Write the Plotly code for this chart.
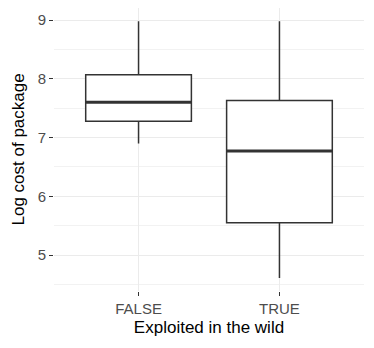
import plotly.graph_objects as go

categories = ["FALSE", "TRUE"]
lower_whisker = [6.90, 4.61]
q1 = [7.28, 5.55]
median = [7.60, 6.77]
q3 = [8.07, 7.63]
upper_whisker = [8.98, 8.98]

fig = go.Figure()
fig.add_trace(go.Box(
    x=categories, q1=q1, median=median, q3=q3,
    lowerfence=lower_whisker, upperfence=upper_whisker,
    fillcolor="white", line=dict(color="#333333", width=1.5),
    width=0.75, whiskerwidth=0, boxpoints=False, showlegend=False,
    hoverinfo="skip",
))
# thick median lines like ggplot
for i, m in enumerate(median):
    fig.add_shape(type="line", xref="x", yref="y", x0=i - 0.375, x1=i + 0.375,
                  y0=m, y1=m, line=dict(color="#333333", width=3))

# y axis title as annotation for exact placement
fig.add_annotation(text="Log cost of package", xref="paper", yref="paper",
                   x=-(54 - 18) / 310, y=0.5, xanchor="center", yanchor="middle",
                   textangle=-90, showarrow=False,
                   font=dict(size=17, color="black"))

fig.update_layout(
    width=374, height=348,
    margin=dict(l=54, r=10, t=8, b=57),
    plot_bgcolor="white", paper_bgcolor="white",
    font=dict(family="Liberation Sans, Arial, sans-serif", color="black"),
    xaxis=dict(
        type="category", range=[-0.6, 1.6], automargin=False,
        showgrid=True, gridcolor="#EBEBEB", gridwidth=1.1,
        ticks="outside", ticklen=4, tickcolor="#333333", tickwidth=1.1,
        tickfont=dict(size=15, color="#4D4D4D"),
        title=dict(text="Exploited in the wild", font=dict(size=17, color="black"), standoff=5),
        zeroline=False, showline=False,
    ),
    yaxis=dict(
        range=[4.39, 9.205], tickvals=[5, 6, 7, 8, 9], automargin=False,
        showgrid=True, gridcolor="#EBEBEB", gridwidth=1.1,
        minor=dict(tickvals=[4.5, 5.5, 6.5, 7.5, 8.5], showgrid=True, gridcolor="#F2F2F2", gridwidth=0.6, ticks=""),
        ticks="outside", ticklen=4, tickcolor="#333333", tickwidth=1.1,
        tickfont=dict(size=15, color="#4D4D4D"),
        zeroline=False, showline=False,
    ),
)
fig.write_html("out.html", config={"displayModeBar": False},
               post_script="document.body.style.margin='0';document.body.style.overflow='hidden';")
